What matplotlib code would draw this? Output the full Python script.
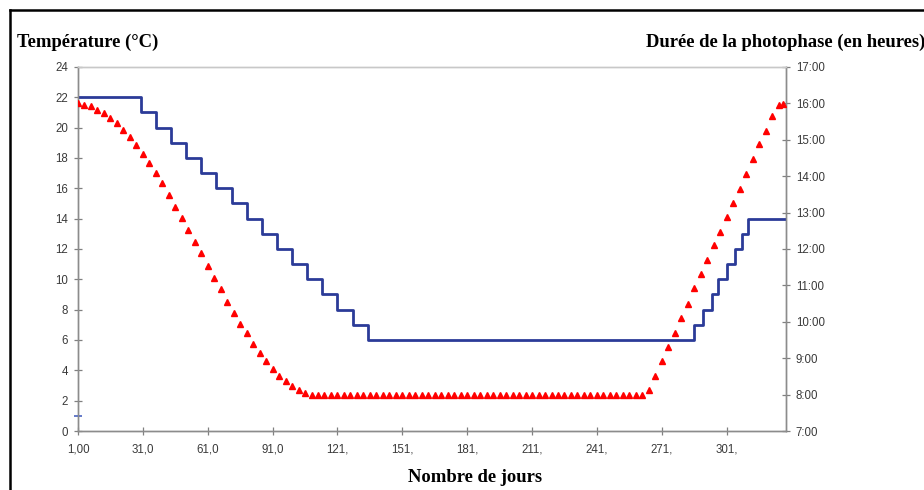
import matplotlib
matplotlib.use('Agg')
import matplotlib.pyplot as plt
from matplotlib.lines import Line2D

# temperature programme (left axis), step changes: day -> new value
temp_step_days = [1, 30, 37, 44, 51, 58, 65, 72, 79, 86, 93, 100, 107, 114, 121, 128, 135,
                  286, 290, 294, 297, 301, 305, 308, 311, 328]
temp_step_values = [22, 21, 20, 19, 18, 17, 16, 15, 14, 13, 12, 11, 10, 9, 8, 7, 6,
                    7, 8, 9, 10, 11, 12, 13, 14, 14]
temp_start_mark = (1, 1)

# photoperiod (right axis, hours), one point every 3 days
photo_days = list(range(1, 326, 3)) + [327]
photo_decline = [16.0, 15.95, 15.92, 15.82, 15.74, 15.61, 15.46, 15.27, 15.08, 14.87,
                 14.62, 14.37, 14.09, 13.81, 13.49, 13.16, 12.86, 12.52, 12.20, 11.90,
                 11.53, 11.21, 10.90, 10.54, 10.23, 9.94, 9.68, 9.39, 9.15, 8.93,
                 8.70, 8.52, 8.37, 8.24, 8.13, 8.04]
photo_plateau = [8.0, 8.0, 8.0, 8.0, 8.0, 8.0, 8.0, 8.0, 8.0, 8.0, 8.0, 8.0, 8.0,
                 8.0, 8.0, 8.0, 8.0, 8.0, 8.0, 8.0, 8.0, 8.0, 8.0, 8.0, 8.0, 8.0,
                 8.0, 8.0, 8.0, 8.0, 8.0, 8.0, 8.0, 8.0, 8.0, 8.0, 8.0, 8.0, 8.0,
                 8.0, 8.0, 8.0, 8.0, 8.0, 8.0, 8.0, 8.0, 8.0, 8.0, 8.0, 8.0, 8.0]
photo_rise = [8.13, 8.51, 8.92, 9.32, 9.70, 10.11, 10.50, 10.92, 11.31, 11.70,
              12.11, 12.48, 12.88, 13.25, 13.65, 14.07, 14.46, 14.88, 15.25, 15.64,
              15.95, 15.98]
photo_hours = photo_decline + photo_plateau + photo_rise

x_ticks = [1, 31, 61, 91, 121, 151, 181, 211, 241, 271, 301]
x_tick_labels = ['1,00', '31,0', '61,0', '91,0', '121,', '151,', '181,', '211,', '241,', '271,', '301,']
temp_ticks = list(range(0, 25, 2))
hour_ticks = list(range(7, 18))

fig = plt.figure(figsize=(9.24, 4.90), dpi=100)
ax = fig.add_axes([0.0844, 0.1204, 0.7659, 0.7429])
ax2 = ax.twinx()

ax.plot(temp_step_days, temp_step_values, drawstyle='steps-post', color='#2b3b98', lw=2.0,
        zorder=3)
ax.plot([temp_start_mark[0]], [temp_start_mark[1]], marker='_', ms=6, mew=1.2,
        color='#4a63c0', clip_on=False, zorder=4)
ax2.plot(photo_days, photo_hours, ls='none', marker='^', ms=3.8, color='#ff0000',
         mec='#ff0000', zorder=3)

ax.set_xlim(1, 328.3)
ax.set_ylim(0, 24)
ax2.set_ylim(7, 17)

tick_font = dict(family='Liberation Sans', size=8.3)
ax.set_xticks(x_ticks)
ax.set_xticklabels(x_tick_labels, fontdict=tick_font, color='#3a3a3a')
ax.set_yticks(temp_ticks)
ax.set_yticklabels([str(t) for t in temp_ticks], fontdict=tick_font, color='#3a3a3a')
ax2.set_yticks(hour_ticks)
ax2.set_yticklabels([f'{h}:00' for h in hour_ticks], fontdict=tick_font, color='#3a3a3a')

for a in (ax, ax2):
    a.tick_params(direction='inout', length=5.5, width=0.9, color='#808080')
    for s in a.spines.values():
        s.set_color('#8c8c8c')
        s.set_linewidth(1.0)
    a.spines['top'].set_color('#c8c8c8')
ax.tick_params(axis='x', pad=6.0)
ax.tick_params(axis='y', pad=4.5)
ax2.tick_params(axis='y', pad=4.5)

title_font = dict(family='Liberation Serif', weight='bold', size=13.4)
fig.text(17 / 924, 1 - 42 / 490, 'Température (°C)', ha='left', va='center', **title_font)
fig.text(646 / 924, 1 - 42 / 490, 'Durée de la photophase (en heures)', ha='left',
         va='center', **title_font)
fig.text(475 / 924, 1 - 477 / 490, 'Nombre de jours', ha='center', va='center', **title_font)

# black frame around the figure (top and left visible)
fig.add_artist(Line2D([10 / 924, 1.0], [1 - 10 / 490, 1 - 10 / 490], color='black', lw=1.8))
fig.add_artist(Line2D([10 / 924, 10 / 924], [0.0, 1 - 10 / 490], color='black', lw=1.8))

fig.savefig('out.png', dpi=100)
